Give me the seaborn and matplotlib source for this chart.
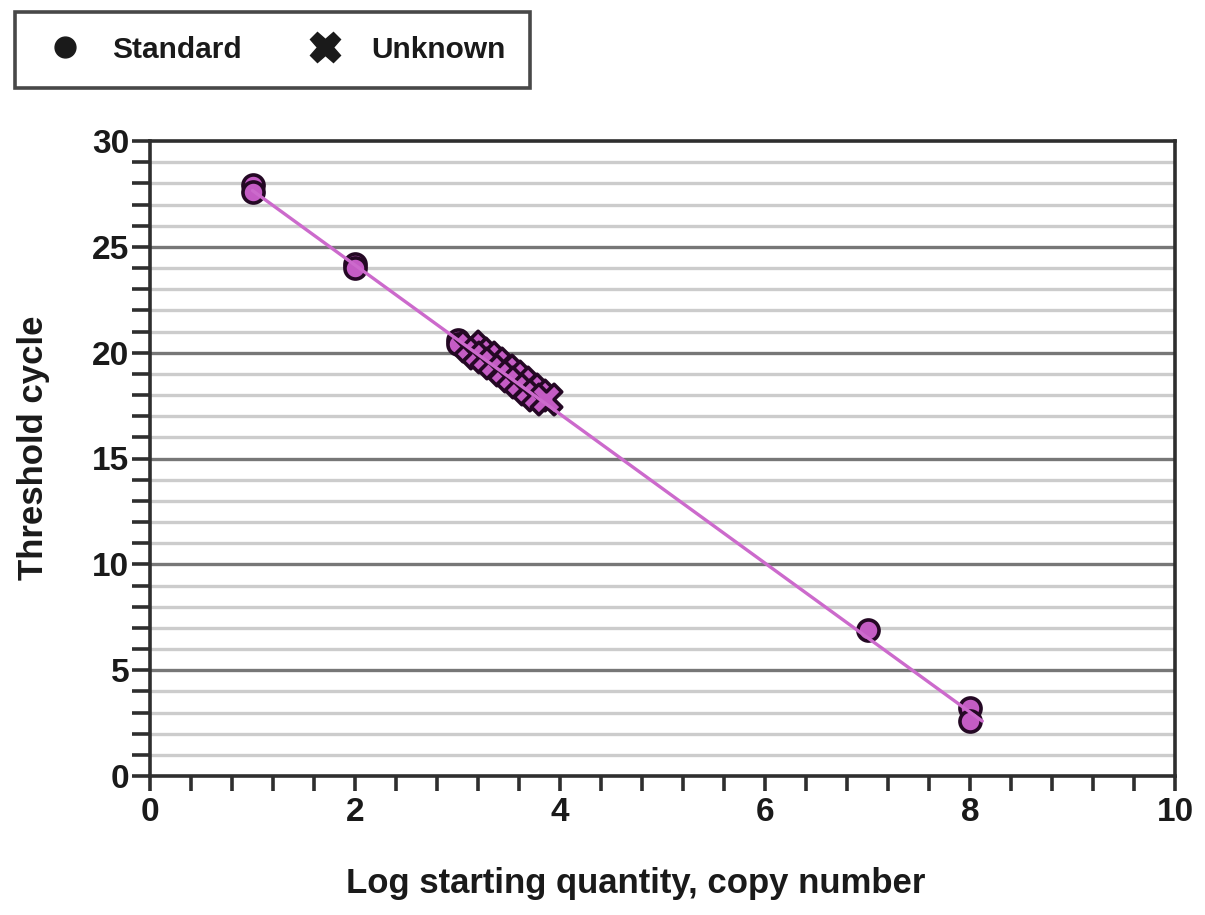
import numpy as np
import pandas as pd
import matplotlib
matplotlib.use("Agg")
import matplotlib.pyplot as plt
from matplotlib.lines import Line2D
from matplotlib.ticker import MultipleLocator
import seaborn as sns

# Data
std_x = [1, 1, 2, 2, 3, 3, 7, 8, 8]
std_y = [27.9, 27.6, 24.2, 24.0, 20.6, 20.4, 6.9, 3.2, 2.6]
unk_x = [3.12, 3.2, 3.28, 3.36, 3.45, 3.53, 3.61, 3.7, 3.78, 3.86]
unk_y = [20.3, 20.0, 19.8, 19.5, 19.2, 18.9, 18.6, 18.3, 18.0, 17.8]
x_ticks = [0, 2, 4, 6, 8, 10]
y_ticks = [0, 5, 10, 15, 20, 25, 30]
x_label = "Log starting quantity, copy number"
y_label = "Threshold cycle"
legend_labels = ["Standard", "Unknown"]

sns.set_theme(style="white")
plt.rcParams['font.family'] = ['Liberation Sans', 'DejaVu Sans']
plt.rcParams['font.weight'] = 'bold'

fig = plt.figure(figsize=(12.05, 9.15), dpi=100)
ax = fig.add_axes([150/1205, 1-776/915, (1175-150)/1205, (776-141)/915])

std_df = pd.DataFrame({"x": std_x, "y": std_y})
unk_df = pd.DataFrame({"x": unk_x, "y": unk_y})

fill = "#c45cc4"
edge = "#240824"

sns.scatterplot(data=std_df, x="x", y="y", ax=ax, marker="o", s=230,
                color=fill, edgecolor=edge, linewidth=2.6, zorder=4, legend=False)
sns.scatterplot(data=unk_df, x="x", y="y", ax=ax, marker="X", s=480,
                color=fill, edgecolor=edge, linewidth=2.6, zorder=4, legend=False)

# regression line through the standards
coef = np.polyfit(std_df["x"], std_df["y"], 1)
lx = np.array([min(std_x), max(std_x) + 0.12])
line_df = pd.DataFrame({"x": lx, "y": np.polyval(coef, lx)})
sns.lineplot(data=line_df, x="x", y="y", ax=ax, color="#cc6acc", linewidth=2.4, zorder=5)

ax.set_xlim(0, 10)
ax.set_ylim(0, 30)
ax.set_xticks(x_ticks)
ax.set_yticks(y_ticks)
ax.xaxis.set_minor_locator(MultipleLocator(0.4))
ax.yaxis.set_minor_locator(MultipleLocator(1))

ax.grid(False)
for v in range(1, 30):
    if v % 5 == 0:
        ax.axhline(v, color="#777777", linewidth=2.4, zorder=1)
    else:
        ax.axhline(v, color="#cccccc", linewidth=2.4, zorder=1)

for s in ax.spines.values():
    s.set_color("#2e2e2e")
    s.set_linewidth(2.6)
    s.set_visible(True)

ax.tick_params(axis="both", which="both", direction="out", color="#2e2e2e", width=2.6,
               bottom=True, left=True, top=False, right=False)
ax.tick_params(axis="x", which="major", length=11, pad=4)
ax.tick_params(axis="x", which="minor", length=11)
ax.tick_params(axis="y", which="major", length=13, pad=2)
ax.tick_params(axis="y", which="minor", length=13)
ax.tick_params(axis="both", which="major", labelsize=24, labelcolor="#1a1a1a")
for lab in ax.get_xticklabels() + ax.get_yticklabels():
    lab.set_fontweight("bold")

ax.set_xlabel(x_label, fontsize=25, fontweight="bold", color="#1a1a1a", labelpad=28,
              x=(636-150)/1025)
ax.set_ylabel(y_label, fontsize=25, fontweight="bold", color="#1a1a1a", labelpad=30,
              y=1-(448-141)/635)

handles = [
    Line2D([], [], linestyle="none", marker="o", markersize=15, color="#1a1a1a"),
    Line2D([], [], linestyle="none", marker="X", markersize=22, color="#1a1a1a"),
]
leg = fig.legend(handles, legend_labels, loc="upper left",
                 bbox_to_anchor=(15/1205, 1-12/915), ncol=2, frameon=True,
                 fancybox=False, edgecolor="#1a1a1a",
                 prop={"weight": "bold", "size": 21.5}, handletextpad=0.7,
                 columnspacing=1.9, borderpad=0.8, handlelength=1.75,
                 borderaxespad=0)
leg.get_frame().set_linewidth(2.6)
for t in leg.get_texts():
    t.set_color("#1a1a1a")

fig.savefig("out.png", dpi=100)
